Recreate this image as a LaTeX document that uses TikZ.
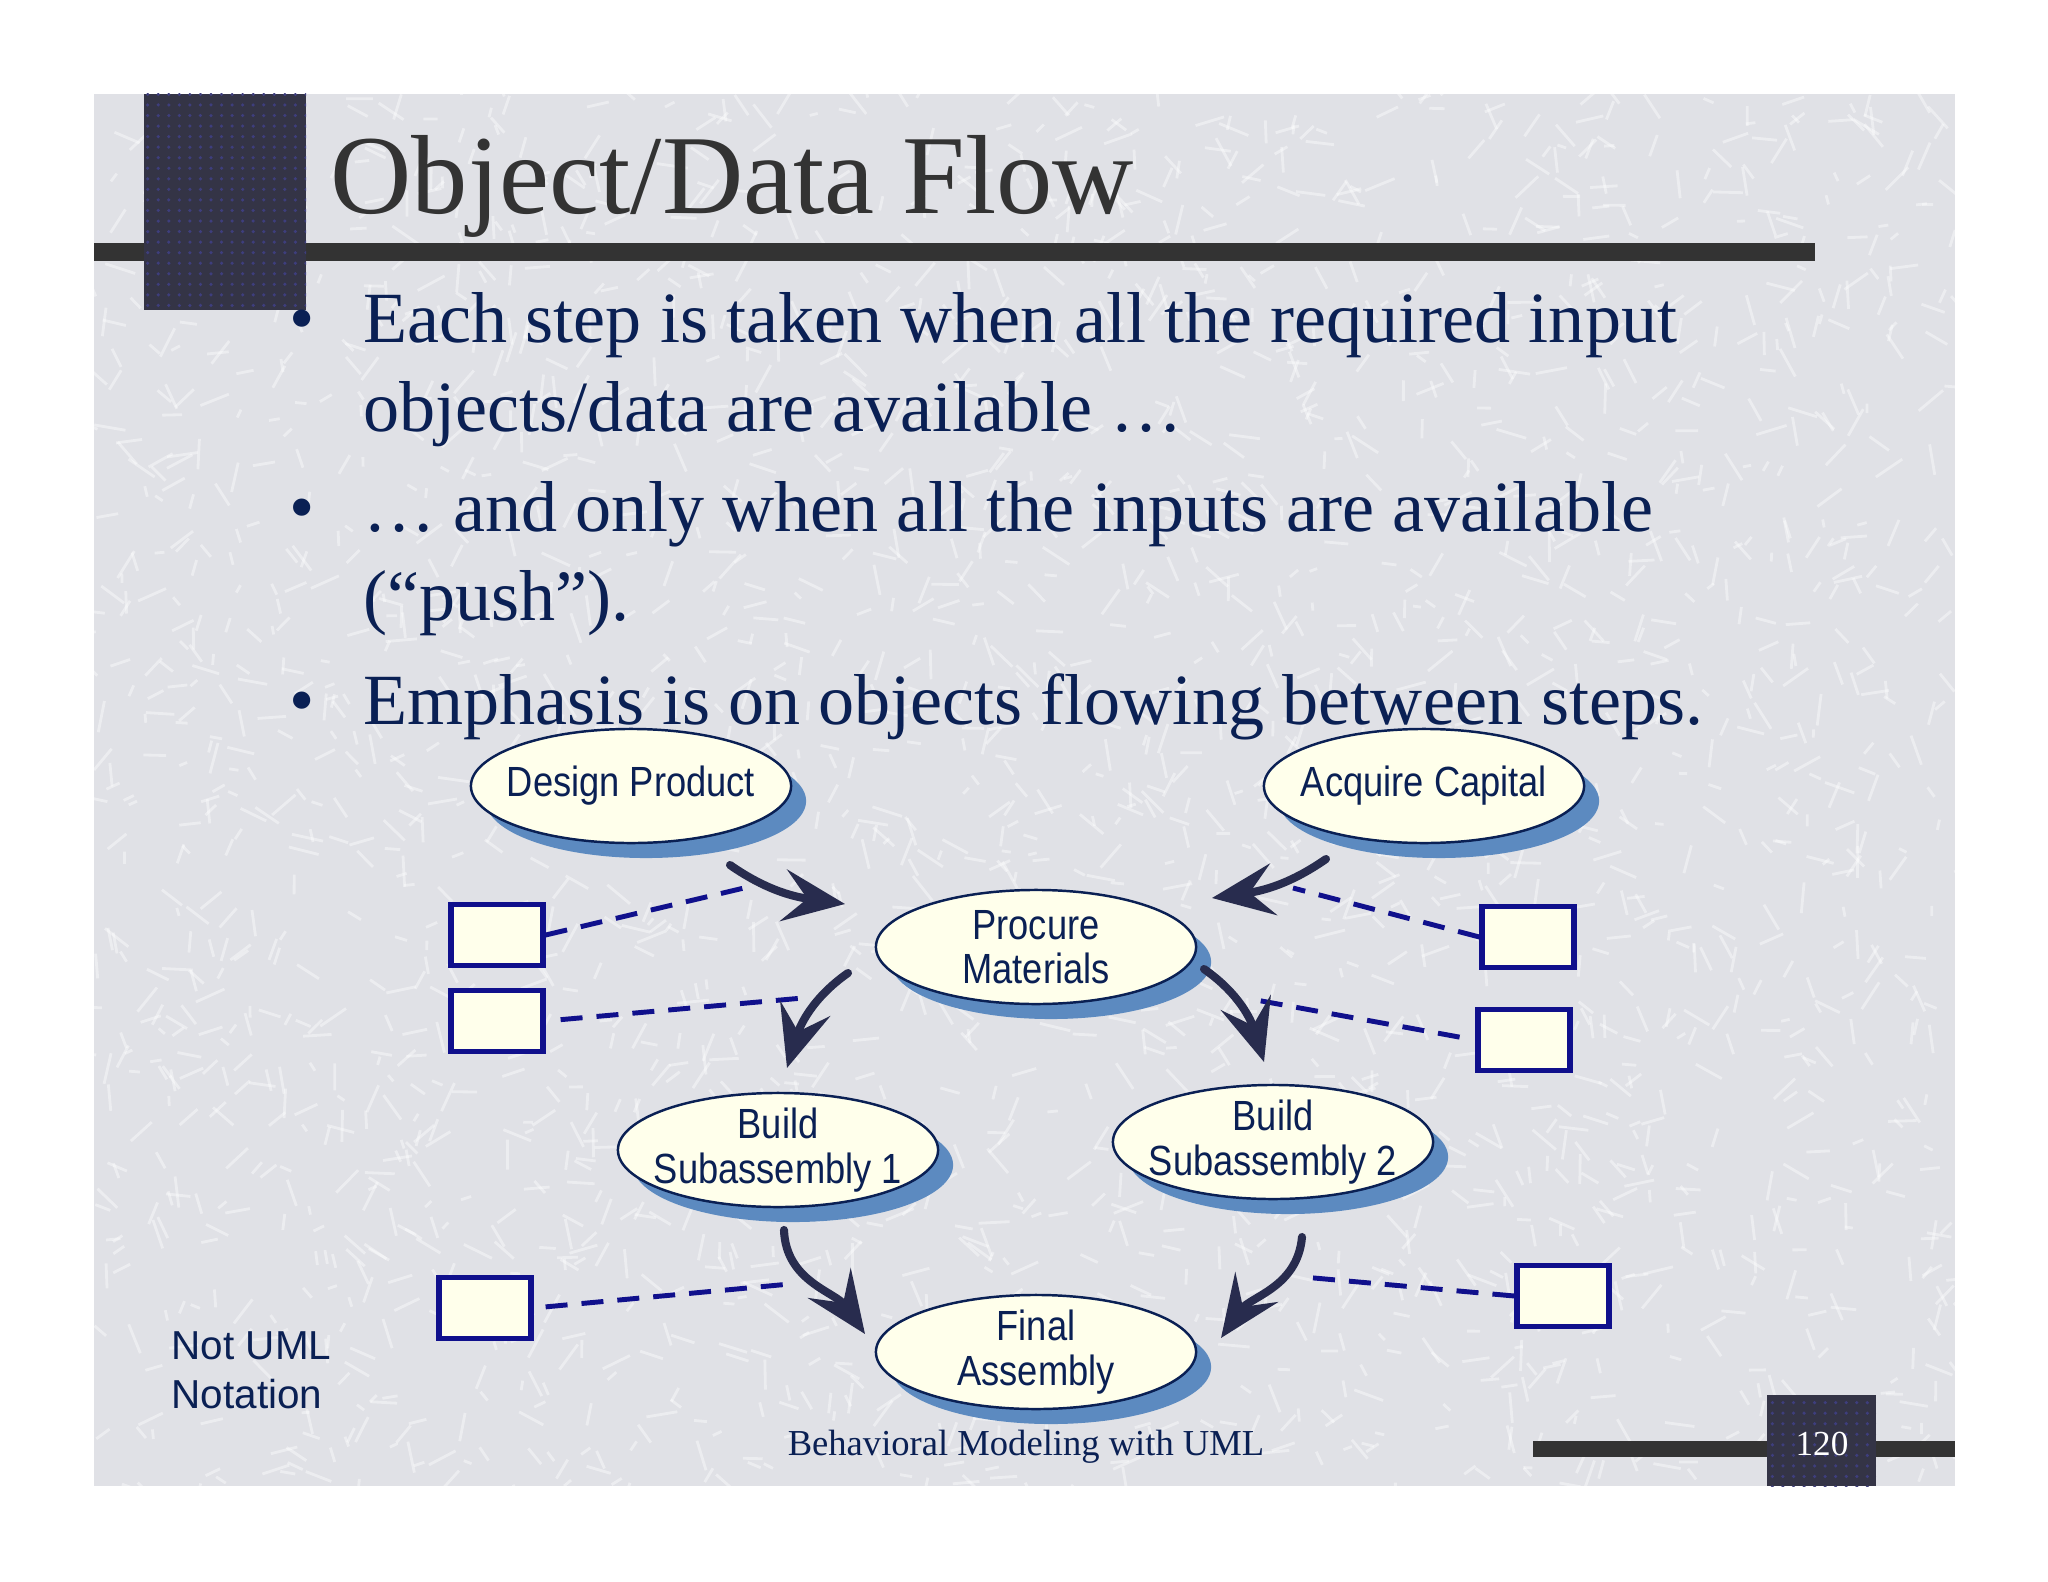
\documentclass[tikz,border=0pt]{standalone}
\usepackage{fontspec}
\setmainfont{Liberation Serif}
\newfontfamily\ovalfont[FakeStretch=0.86]{Liberation Sans}
\newfontfamily\notefont{Liberation Sans}
\usepackage{tikz}
\usetikzlibrary{shapes.geometric, arrows.meta, positioning, shadows, patterns}
\definecolor{slidegray}{RGB}{224,225,230}
\definecolor{titlegray}{RGB}{51,51,51}
\definecolor{squaredark}{RGB}{52,52,70}
\definecolor{squaredots}{RGB}{62,62,125}
\definecolor{textnavy}{RGB}{10,32,84}
\definecolor{ovalcream}{RGB}{255,255,235}
\definecolor{shadowblue}{RGB}{92,138,192}
\definecolor{boxblue}{RGB}{16,16,140}
\definecolor{arrownavy}{RGB}{40,44,78}

\tikzset{
  activity/.style={draw=textnavy, line width=0.7pt, ellipse, fill=ovalcream, minimum width=3.2cm, minimum height=1.14cm, inner xsep=-0.3cm, inner ysep=-0.1cm, align=center, text=textnavy, font=\ovalfont\fontsize{12}{12.6}\selectfont, drop shadow={shadow xshift=0.15cm, shadow yshift=-0.15cm, fill=shadowblue, opacity=1}},
  objbox/.style={draw=boxblue, line width=1.5pt, fill=ovalcream, minimum width=0.92cm, minimum height=0.61cm, inner sep=0pt},
  flow/.style={draw=arrownavy, line width=2.3pt, line cap=round, -{Stealth[length=0.62cm, width=0.52cm, inset=0.24cm]}},
  objlink/.style={draw=boxblue, line width=1.4pt, dash pattern=on 0.22cm off 0.14cm},
  bullettext/.style={anchor=base west, inner sep=0pt, text=textnavy, font=\fontsize{20.5}{25}\selectfont},
}

\begin{document}
\begin{tikzpicture}[x=0.01cm, y=-0.01cm]
  \useasboundingbox (0,0) rectangle (2048,1582);
  % Slide
  \fill[white] (0,0) rectangle (2048,1582);
  \fill[slidegray] (94,94) rectangle (1955,1486);
  \begin{scope}
    \clip (94,94) rectangle (1955,1486);
    \pgfmathsetseed{42}
    \foreach \i in {1,...,2600} {
      \pgfmathsetmacro\sx{94+rnd*1861}
      \pgfmathsetmacro\sy{94+rnd*1392}
      \pgfmathsetmacro\sa{rnd*360}
      \pgfmathsetmacro\sl{8+rnd*24}
      \draw[white, opacity=0.4, line width=0.8pt] (\sx,\sy) -- ++(\sa:\sl);
    }
  \end{scope}
  \fill[titlegray] (94,243) rectangle (1815,261);
  \fill[squaredark] (144,94) rectangle (306,310);
  \fill[pattern=dots, pattern color=squaredots] (144,94) rectangle (306,310);
  \fill[titlegray] (1533,1441) rectangle (1955,1457);
  \fill[squaredark] (1767,1395) rectangle (1876,1486);
  \fill[pattern=dots, pattern color=squaredots] (1767,1395) rectangle (1876,1486);

  % Title and bullets
  \node[anchor=base west, inner sep=0pt, text=titlegray, font=\fontsize{32}{38}\selectfont] (title) at (330,214) {Object/Data Flow};
  \node[bullettext, anchor=base] (dot1) at (302,343) {•};
  \node[bullettext] (line1) at (363,343) {Each step is taken when all the required input};
  \node[bullettext] (line2) at (363,431) {objects/data are available …};
  \node[bullettext, anchor=base] (dot2) at (302,531) {•};
  \node[bullettext] (line3) at (363,531) {… and only when all the inputs are available};
  \node[bullettext] (line4) at (363,620) {(“push”).};
  \node[bullettext, anchor=base] (dot3) at (302,724) {•};
  \node[bullettext] (line5) at (363,724) {Emphasis is on objects flowing between steps.};

  % Activities
  \node[activity] (design) at (631,786) {Design Product};
  \node[activity] (acquire) at (1424,786) {Acquire Capital};
  \node[activity] (procure) at (1036,947) {Procure\\Materials};
  \node[activity] (build1) at (778,1150) {Build\\Subassembly 1};
  \node[activity] (build2) at (1273,1142) {Build\\Subassembly 2};
  \node[activity] (final) at (1036,1352) {Final\\Assembly};

  % Objects
  \node[objbox] (obj1) at (497,935) {};
  \node[objbox] (obj2) at (497,1021) {};
  \node[objbox] (obj3) at (1528,937) {};
  \node[objbox] (obj4) at (1524,1040) {};
  \node[objbox] (obj5) at (485,1308) {};
  \node[objbox] (obj6) at (1563,1296) {};

  \coordinate (link1) at (744,888);
  \coordinate (link2) at (803,998);
  \coordinate (link3) at (1293,888);
  \coordinate (link4) at (1256,1000);
  \coordinate (link5) at (790,1284);
  \coordinate (link6) at (1303,1277);

  \draw[objlink] (obj1.east) -- (link1);
  \draw[objlink, shorten <=0.15cm] (obj2.east) -- (link2);
  \draw[objlink] (obj3.west) -- (link3);
  \draw[objlink, shorten <=0.16cm] (obj4.west) -- (link4);
  \draw[objlink, shorten <=0.12cm] (obj5.east) -- (link5);
  \draw[objlink] (obj6.west) -- (link6);

  % Flows
  \draw[flow] ([shift={(99,79)}]design.center) to[out=-35, in=172] ([shift={(-191,-43)}]procure.center);
  \draw[flow] ([shift={(-98,73)}]acquire.center) to[out=-145, in=8] ([shift={(176,-49)}]procure.center);
  \draw[flow] ([shift={(-188,26)}]procure.center) to[out=-145, in=73] ([shift={(9,-82)}]build1.center);
  \draw[flow] ([shift={(168,22)}]procure.center) to[out=-35, in=107] ([shift={(-9,-80)}]build2.center);
  \draw[flow] ([shift={(6,80)}]build1.center) to[out=-88, in=125] ([shift={(-171,-18)}]final.center);
  \draw[flow] ([shift={(29,95)}]build2.center) to[out=-95, in=55] ([shift={(185,-14)}]final.center);

  % Footer
  \node[anchor=west, inner sep=0pt, align=left, text=textnavy, font=\notefont\fontsize{11.5}{13.9}\selectfont] (notuml) at (171,1370) {Not UML\\Notation};
  \node[anchor=base, inner sep=0pt, text=textnavy, font=\fontsize{10.4}{12}\selectfont] (footer) at (1026,1455) {Behavioral Modeling with UML};
  \node[anchor=base, inner sep=0pt, text=white, font=\fontsize{10}{12}\selectfont] (pagenum) at (1822,1455) {120};
\end{tikzpicture}
\end{document}
